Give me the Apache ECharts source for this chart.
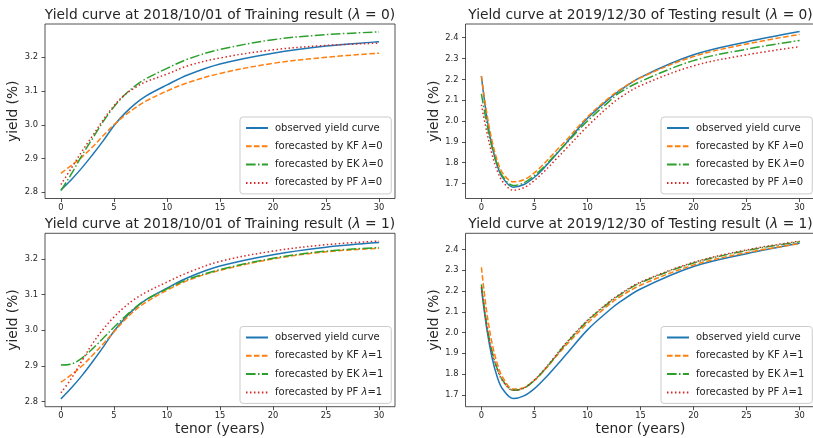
<!DOCTYPE html>
<html>
<head>
<meta charset="utf-8">
<script src="https://cdn.jsdelivr.net/npm/echarts@6/dist/echarts.min.js"></script>
<style>
  html, body { margin: 0; padding: 0; background: #ffffff; }
  #chart { width: 813px; height: 438px; }
</style>
</head>
<body>
<div id="chart"></div>
<script>
// Tenor grids (years) on which each curve is sampled
const tenorTrain = [0, 1, 2, 3, 4, 5, 6, 7, 8, 10, 12, 15, 20, 25, 30];
const tenorTest = [0, 0.5, 1, 1.5, 2, 3, 4, 5, 6, 7, 8, 10, 12, 13, 15, 20, 25, 30];

// 2018/10/01 (training) curves, yield in %
const observedTrain = [2.807, 2.838, 2.873, 2.912, 2.953, 2.997, 3.033, 3.062, 3.085, 3.118, 3.148, 3.18, 3.212, 3.233, 3.246];
const kfTrainL0 = [2.856, 2.88, 2.905, 2.935, 2.968, 3.0, 3.027, 3.05, 3.07, 3.1, 3.125, 3.152, 3.182, 3.2, 3.212];
const ekTrainL0 = [2.805, 2.855, 2.91, 2.96, 3.01, 3.053, 3.088, 3.115, 3.136, 3.167, 3.195, 3.223, 3.252, 3.267, 3.275];
const pfTrainL0 = [2.823, 2.872, 2.922, 2.968, 3.015, 3.056, 3.088, 3.11, 3.127, 3.15, 3.175, 3.198, 3.222, 3.235, 3.242];
const kfTrainL1 = [2.854, 2.875, 2.9, 2.93, 2.962, 2.995, 3.028, 3.056, 3.078, 3.112, 3.14, 3.168, 3.2, 3.22, 3.23];
const ekTrainL1 = [2.902, 2.905, 2.922, 2.948, 2.978, 3.008, 3.037, 3.063, 3.085, 3.116, 3.143, 3.17, 3.202, 3.222, 3.232];
const pfTrainL1 = [2.824, 2.865, 2.915, 2.963, 3.003, 3.037, 3.065, 3.088, 3.106, 3.135, 3.162, 3.193, 3.222, 3.24, 3.25];

// 2019/12/30 (testing) curves, yield in %
const observedTest = [2.215, 2.02, 1.88, 1.785, 1.728, 1.682, 1.695, 1.73, 1.78, 1.837, 1.895, 2.013, 2.105, 2.145, 2.21, 2.318, 2.38, 2.43];
const kfTestL0 = [2.215, 2.04, 1.905, 1.81, 1.75, 1.708, 1.718, 1.752, 1.8, 1.855, 1.908, 2.02, 2.11, 2.148, 2.208, 2.31, 2.37, 2.416];
const ekTestL0 = [2.13, 1.99, 1.875, 1.79, 1.735, 1.69, 1.703, 1.738, 1.785, 1.84, 1.893, 2.0, 2.092, 2.135, 2.19, 2.29, 2.345, 2.387];
const pfTestL0 = [2.078, 1.95, 1.84, 1.76, 1.71, 1.668, 1.68, 1.715, 1.762, 1.815, 1.868, 1.975, 2.07, 2.11, 2.17, 2.265, 2.318, 2.357];
const kfTestL1 = [2.314, 2.1, 1.95, 1.85, 1.785, 1.728, 1.735, 1.77, 1.822, 1.882, 1.94, 2.045, 2.133, 2.17, 2.228, 2.325, 2.385, 2.428];
const ekTestL1 = [2.232, 2.04, 1.91, 1.825, 1.77, 1.722, 1.732, 1.77, 1.824, 1.886, 1.948, 2.056, 2.143, 2.18, 2.24, 2.335, 2.395, 2.437];
const pfTestL1 = [2.22, 2.035, 1.905, 1.823, 1.768, 1.722, 1.733, 1.772, 1.827, 1.889, 1.951, 2.059, 2.146, 2.183, 2.243, 2.338, 2.398, 2.44];

// Tick labels
const xTicks = [0, 5, 10, 15, 20, 25, 30];
const yTicksTrain = [2.8, 2.9, 3.0, 3.1, 3.2];
const yTicksTest = [1.7, 1.8, 1.9, 2.0, 2.1, 2.2, 2.3, 2.4];

// Panel titles and legend names
const titles = [
  'Yield curve at 2018/10/01 of Training result ({i|λ} = 0)',
  'Yield curve at 2019/12/30 of Testing result ({i|λ} = 0)',
  'Yield curve at 2018/10/01 of Training result ({i|λ} = 1)',
  'Yield curve at 2019/12/30 of Testing result ({i|λ} = 1)'
];
const obsName = 'observed yield curve';
const lam0Names = ['forecasted by KF λ=0', 'forecasted by EK λ=0', 'forecasted by PF λ=0'];
const lam1Names = ['forecasted by KF λ=1', 'forecasted by EK λ=1', 'forecasted by PF λ=1'];

const FONT = 'DejaVu Sans';
const TXT = '#262626';
const COLORS = ['#1f77b4', '#ff7f0e', '#2ca02c', '#d62728'];
const DASHES = ['solid', [5.55, 2.4], [9.6, 2.4, 1.5, 2.4], [1.5, 2.475]];

const panels = [
  { tenor: tenorTrain, curves: [observedTrain, kfTrainL0, ekTrainL0, pfTrainL0], names: [obsName].concat(lam0Names),
    yMin: 2.7815, yMax: 3.2985, yTicks: yTicksTrain, grid: { left: 45, top: 24, width: 350, height: 174.5 }, legend: { left: 240, top: 117 } },
  { tenor: tenorTest, curves: [observedTest, kfTestL0, ekTestL0, pfTestL0], names: [obsName].concat(lam0Names),
    yMin: 1.628, yMax: 2.466, yTicks: yTicksTest, grid: { left: 465.5, top: 24, width: 350, height: 174.5 }, legend: { left: 661, top: 117 } },
  { tenor: tenorTrain, curves: [observedTrain, kfTrainL1, ekTrainL1, pfTrainL1], names: [obsName].concat(lam1Names),
    yMin: 2.785, yMax: 3.272, yTicks: yTicksTrain, grid: { left: 45, top: 233.3, width: 350, height: 173.4 }, legend: { left: 240, top: 326.5 } },
  { tenor: tenorTest, curves: [observedTest, kfTestL1, ekTestL1, pfTestL1], names: [obsName].concat(lam1Names),
    yMin: 1.643, yMax: 2.478, yTicks: yTicksTest, grid: { left: 465.5, top: 233.3, width: 350, height: 173.4 }, legend: { left: 661, top: 326.5 } }
];

const grids = [], xAxes = [], yAxes = [], series = [], legends = [], graphics = [];

panels.forEach((p, i) => {
  grids.push(Object.assign({ show: true, borderColor: TXT, borderWidth: 0.8, backgroundColor: 'transparent',
    containLabel: false, outerBoundsMode: 'none' }, p.grid));

  const isBottom = i >= 2;
  xAxes.push({
    type: 'value', gridIndex: i, min: -1.5, max: 31.5, position: 'bottom',
    axisLine: { show: false, onZero: false },
    axisTick: { show: true, customValues: xTicks, length: 3.5, lineStyle: { color: TXT, width: 0.8 } },
    axisLabel: { customValues: xTicks, fontSize: 8.3, color: TXT, fontFamily: FONT, margin: 5 },
    splitLine: { show: false },
    name: isBottom ? 'tenor (years)' : '',
    nameLocation: 'middle', nameGap: 16,
    nameTextStyle: { fontSize: 13.8, color: TXT, fontFamily: FONT, verticalAlign: 'top' }
  });
  yAxes.push({
    type: 'value', gridIndex: i, min: p.yMin, max: p.yMax, position: 'left',
    axisLine: { show: false, onZero: false },
    axisTick: { show: true, customValues: p.yTicks, length: 3.5, lineStyle: { color: TXT, width: 0.8 } },
    axisLabel: { customValues: p.yTicks, fontSize: 8.3, color: TXT, fontFamily: FONT, margin: 7,
      formatter: v => v.toFixed(1) },
    splitLine: { show: false },
    name: 'yield (%)', nameLocation: 'middle', nameGap: 22, nameRotate: 90,
    nameTextStyle: { fontSize: 13.8, color: TXT, fontFamily: FONT }
  });

  p.curves.forEach((vals, k) => {
    series.push({
      type: 'line', name: p.names[k], xAxisIndex: i, yAxisIndex: i,
      data: p.tenor.map((t, j) => [t, vals[j]]),
      smooth: 0.35, symbol: 'none', clip: true,
      lineStyle: { color: COLORS[k], width: 1.5, type: DASHES[k], cap: 'butt' },
      itemStyle: { color: COLORS[k] },
      emphasis: { disabled: true }, animation: false
    });
  });

  legends.push({
    orient: 'vertical', left: p.legend.left, top: p.legend.top,
    data: p.names, itemWidth: 22, itemHeight: 10, itemGap: 8.3,
    padding: [6, 8, 6, 5], borderColor: '#cccccc', borderWidth: 1, borderRadius: 3,
    backgroundColor: 'rgba(255,255,255,0.8)',
    selectedMode: false,
    itemStyle: { opacity: 0 },
    formatter: name => name.replace('λ', '{i|λ}'),
    textStyle: { fontSize: 10, color: TXT, fontFamily: FONT, padding: [0, 0, 0, 2],
      rich: { i: { fontSize: 10, color: TXT, fontFamily: FONT, fontStyle: 'italic' } } }
  });

  graphics.push({
    type: 'text',
    x: p.grid.left + p.grid.width / 2,
    y: p.grid.top - 8.5,
    style: {
      text: titles[i], align: 'center', verticalAlign: 'middle',
      fontSize: 13.8, fontFamily: FONT, fill: TXT,
      rich: { i: { fontSize: 13.8, fontFamily: FONT, fontStyle: 'italic', fill: TXT } }
    }
  });
});

const chart = echarts.init(document.getElementById('chart'), null, { renderer: 'canvas' });
chart.setOption({
  backgroundColor: '#ffffff',
  animation: false,
  grid: grids, xAxis: xAxes, yAxis: yAxes,
  legend: legends, series: series, graphic: graphics
});
</script>
</body>
</html>
